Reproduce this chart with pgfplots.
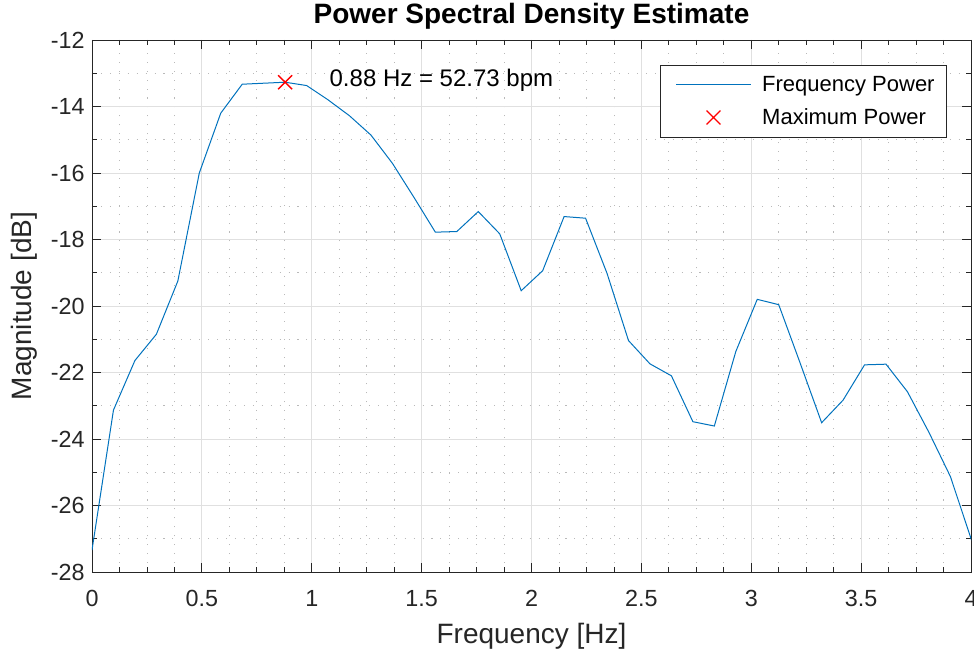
\documentclass[border=0pt]{standalone}
\usepackage{pgfplots}
\pgfplotsset{compat=1.18}
\usepackage{fontspec}
\setmainfont{Liberation Sans}
\definecolor{mblue}{rgb}{0,0.447,0.741}
\definecolor{axgray}{rgb}{0.15,0.15,0.15}
\definecolor{gridmaj}{RGB}{224,224,224}
\definecolor{gridmin}{RGB}{185,185,185}
\begin{document}
\begin{tikzpicture}
\begin{axis}[
  name=ax,
  at={(0,0)}, anchor=south west,
  scale only axis, width=659.25pt, height=399pt,
  xmin=0, xmax=4, ymin=-28, ymax=-12,
  xtick={0,0.5,1,1.5,2,2.5,3,3.5,4},
  ytick={-28,-26,-24,-22,-20,-18,-16,-14,-12},
  minor x tick num=3, minor y tick num=1,
  grid=both,
  major grid style={gridmaj, line width=0.6pt},
  minor grid style={gridmin, line width=0.6pt, dash pattern=on 0.8pt off 5.9pt},
  axis line style={axgray, line width=0.6pt},
  tick style={axgray, line width=0.6pt},
  major tick length=7pt, minor tick length=3.5pt,
  /pgf/number format/assume math mode=true,
  ticklabel style={font=\fontsize{17.5}{21}\selectfont, text=axgray},
  xticklabel style={yshift=-10pt},
  yticklabel style={xshift=-2pt},
  xlabel={Frequency [Hz]},
  ylabel={Magnitude [dB]},
  xlabel style={at={(axis description cs:0.5,-0.1215)}, anchor=center, font=\fontsize{21}{25}\selectfont, text=axgray},
  ylabel style={at={(axis description cs:-0.0774,0.5)}, anchor=center, font=\fontsize{21}{25}\selectfont, text=axgray},
  legend style={at={(axis description cs:0.9727,0.953)}, anchor=north east, draw=axgray, line width=0.6pt,
    font=\fontsize{16.5}{19}\selectfont, text=black, inner xsep=7pt, inner ysep=6pt, row sep=7.5pt},
  legend cell align=left,
  legend image code/.code={\path (-4pt,0pt) (62pt,0pt); \draw[mark repeat=2,mark phase=2,#1] plot coordinates {(0pt,0pt)(28pt,0pt)(56pt,0pt)};},
]
\addplot[mblue, line width=0.75pt] coordinates {
(0.0000,-27.34) (0.0977,-23.13) (0.1953,-21.64) (0.2930,-20.85) (0.3906,-19.25)
(0.4883,-16.00) (0.5859,-14.20) (0.6836,-13.33) (0.7813,-13.30) (0.8789,-13.27)
(0.9766,-13.37) (1.0742,-13.80) (1.1719,-14.28) (1.2695,-14.86) (1.3672,-15.71)
(1.4648,-16.73) (1.5625,-17.78) (1.6602,-17.76) (1.7578,-17.16) (1.8555,-17.83)
(1.9531,-19.54) (2.0508,-18.94) (2.1484,-17.31) (2.2461,-17.36) (2.3438,-19.02)
(2.4414,-21.04) (2.5391,-21.74) (2.6367,-22.10) (2.7344,-23.48) (2.8320,-23.61)
(2.9297,-21.37) (3.0273,-19.80) (3.1250,-19.96) (3.2227,-21.72) (3.3203,-23.51)
(3.4180,-22.83) (3.5156,-21.77) (3.6133,-21.75) (3.7109,-22.58) (3.8086,-23.80)
(3.9063,-25.13) (4.0039,-27.07)
};
\addlegendentry{Frequency Power}
\addplot[only marks, red, mark=x, mark size=7.4pt, line width=1pt] coordinates {(0.8789,-13.27)};
\addlegendentry{Maximum Power}
\node[anchor=west, font=\fontsize{18}{21}\selectfont, text=black] at (axis cs:1.06,-13.2) {0.88 Hz = 52.73 bpm};
\end{axis}
\node[anchor=base, font=\bfseries\fontsize{21}{25}\selectfont, text=black, inner sep=0pt] at (329.625pt,411.5pt) {Power Spectral Density Estimate};
\pgfresetboundingbox
\useasboundingbox (-69pt,-60pt) rectangle (661.5pt,429pt);
\end{tikzpicture}
\end{document}
